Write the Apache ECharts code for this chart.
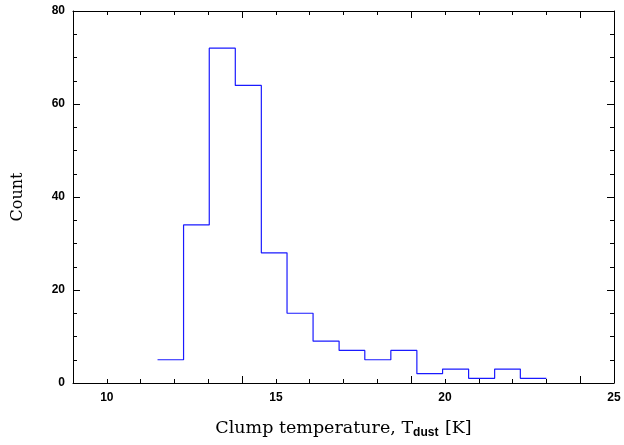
<!DOCTYPE html>
<html>
<head>
<meta charset="utf-8">
<script src="https://cdn.jsdelivr.net/npm/echarts@6/dist/echarts.min.js"></script>
<style>
html,body{margin:0;padding:0;background:#fff;}
#chart{width:624px;height:445px;}
</style>
</head>
<body>
<div id="chart"></div>
<script>
// Bin edges (K) and counts
var binEdges = [11.5, 12.27, 13.03, 13.8, 14.57, 15.33, 16.1, 16.87, 17.63, 18.4, 19.17, 19.93, 20.7, 21.47, 22.23, 23.0];
var counts   = [5, 34, 72, 64, 28, 15, 9, 7, 5, 7, 2, 3, 1, 3, 1];
var xTicks = [10, 15, 20, 25];
var yTicks = [0, 20, 40, 60, 80];

// step outline: one point per bin start plus the final edge
var stepData = [];
for (var i = 0; i < counts.length; i++) stepData.push([binEdges[i], counts[i]]);
stepData.push([binEdges[binEdges.length - 1], counts[counts.length - 1]]);

var labelFont = {color: '#000', fontFamily: 'Liberation Sans', fontSize: 12, fontWeight: 'bold'};
function axisCommon(extra) {
  var base = {
    axisLine: {show: true, onZero: false, lineStyle: {color: '#000', width: 1}},
    axisTick: {show: true, inside: true, length: 7, lineStyle: {color: '#000'}},
    minorTick: {show: true, length: 4, lineStyle: {color: '#000'}},
    splitLine: {show: false},
    minorSplitLine: {show: false}
  };
  for (var k in extra) base[k] = extra[k];
  return base;
}

var chart = echarts.init(document.getElementById('chart'), null, {renderer: 'canvas'});
chart.setOption({
  animation: false,
  backgroundColor: '#fff',
  grid: {left: 73, top: 11, right: 10, bottom: 62},
  xAxis: [
    axisCommon({
      type: 'value', position: 'bottom', min: 9, max: 25, interval: 5,
      minorTick: {show: true, splitNumber: 5, length: 4, lineStyle: {color: '#000'}},
      axisLabel: Object.assign({margin: 9, customValues: xTicks}, labelFont),
      name: '{n|Clump temperature, T}{s|dust}{n| [K]}',
      nameLocation: 'middle', nameGap: 35,
      nameTextStyle: {
        rich: {
          n: {fontFamily: 'DejaVu Serif', fontSize: 17.5, color: '#000'},
          s: {fontFamily: 'Liberation Sans', fontSize: 12, fontWeight: 'bold', color: '#000', padding: [9, 1, 0, 0]}
        }
      }
    }),
    axisCommon({
      type: 'value', position: 'top', min: 9, max: 25, interval: 5,
      minorTick: {show: true, splitNumber: 5, length: 4, lineStyle: {color: '#000'}},
      axisLabel: {show: false}
    })
  ],
  yAxis: [
    axisCommon({
      type: 'value', position: 'left', min: 0, max: 80, interval: 20,
      minorTick: {show: true, splitNumber: 4, length: 4, lineStyle: {color: '#000'}},
      axisLabel: Object.assign({margin: 8, customValues: yTicks}, labelFont),
      name: 'Count', nameLocation: 'middle', nameGap: 47,
      nameTextStyle: {fontFamily: 'DejaVu Serif', fontSize: 16, color: '#000'}
    }),
    axisCommon({
      type: 'value', position: 'right', min: 0, max: 80, interval: 20,
      minorTick: {show: true, splitNumber: 4, length: 4, lineStyle: {color: '#000'}},
      axisLabel: {show: false}
    })
  ],
  series: [{
    type: 'line',
    step: 'end',
    xAxisIndex: 0,
    yAxisIndex: 0,
    data: stepData,
    symbol: 'none',
    lineStyle: {color: '#1a1aff', width: 1.2}
  }]
});
</script>
</body>
</html>
